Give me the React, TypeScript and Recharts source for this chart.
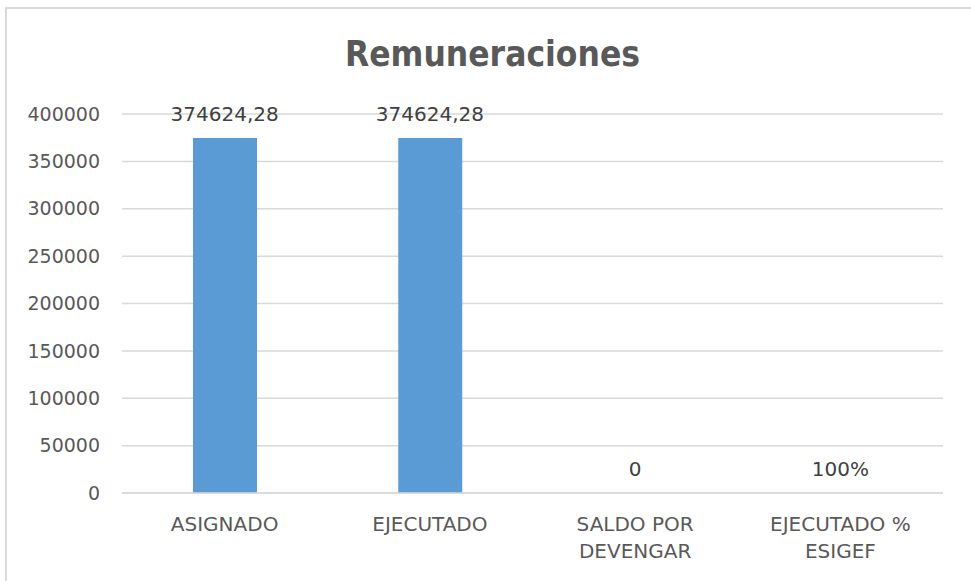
import React from 'react';
import { Bar, CartesianGrid, ComposedChart, LabelList, Line, XAxis, YAxis } from 'recharts';

const categories = ['ASIGNADO', 'EJECUTADO', 'SALDO POR DEVENGAR', 'EJECUTADO % ESIGEF'];
const values = [374624.28, 374624.28, 0, 1];
const valueLabels = ['374624,28', '374624,28', '0', '100%'];
const yTicks = [0, 50000, 100000, 150000, 200000, 250000, 300000, 350000, 400000];

const data = categories.map((name, i) => ({ name, value: values[i], label: valueLabels[i] }));

const FONT = '"DejaVu Sans", sans-serif';
const GREY = '#595959';

function wrap(text: string, max: number) {
    const lines: string[] = [];
    let cur = '';
    for (const w of text.split(' ')) {
        const next = cur ? cur + ' ' + w : w;
        if (next.length > max && cur) {
            lines.push(cur);
            cur = w;
        } else {
            cur = next;
        }
    }
    if (cur) lines.push(cur);
    return lines;
}

function CategoryTick({ x, y, payload }: any) {
    const lines = wrap(payload.value, 11);
    return (
        <g transform={`translate(${x},${y})`}>
            {lines.map((l, i) => (
                <text
                    key={i}
                    x={0}
                    y={30 + i * 27}
                    textAnchor="middle"
                    fill={GREY}
                    fontSize={20}
                    fontFamily={FONT}
                >
                    {l}
                </text>
            ))}
        </g>
    );
}

export default function App() {
    return (
        <div style={{ position: 'absolute', left: 0, top: 0, width: 971, height: 581, background: '#fff', overflow: 'hidden' }}>
            <div
                style={{
                    position: 'absolute',
                    left: 5,
                    top: 7,
                    width: 1000,
                    height: 620,
                    border: '2px solid #d9d9d9',
                    boxSizing: 'border-box'
                }}
            />
            <div
                style={{
                    position: 'absolute',
                    left: 0,
                    top: 34,
                    width: 985,
                    textAlign: 'center',
                    fontFamily: '"DejaVu Sans Condensed", "DejaVu Sans", sans-serif',
                    fontWeight: 'bold',
                    fontSize: 35,
                    color: GREY
                }}
            >
                Remuneraciones
            </div>
            <div style={{ position: 'absolute', left: 0, top: 0 }}>
                <ComposedChart
                    width={971}
                    height={581}
                    data={data}
                    margin={{ top: 114, right: 28, left: 0, bottom: 0 }}
                >
                    <CartesianGrid vertical={false} stroke="#d9d9d9" strokeWidth={1.5} />
                    <XAxis
                        dataKey="name"
                        tick={<CategoryTick />}
                        tickLine={false}
                        axisLine={{ stroke: '#d9d9d9', strokeWidth: 1.5 }}
                        interval={0}
                        height={88}
                    />
                    <YAxis
                        domain={[0, 400000]}
                        ticks={yTicks}
                        width={122}
                        axisLine={false}
                        tickLine={false}
                        tickMargin={16}
                        tick={{ fill: GREY, fontSize: 19, fontFamily: FONT }}
                        interval={0}
                    />
                    <Bar dataKey="value" fill="#5b9bd5" barSize={64} isAnimationActive={false} />
                    <Line
                        dataKey="value"
                        stroke="none"
                        dot={false}
                        activeDot={false}
                        legendType="none"
                        isAnimationActive={false}
                    >
                        <LabelList
                            dataKey="label"
                            position="top"
                            offset={17}
                            fill="#404040"
                            fontSize={20}
                            fontFamily={FONT}
                        />
                    </Line>
                </ComposedChart>
            </div>
        </div>
    );
}
